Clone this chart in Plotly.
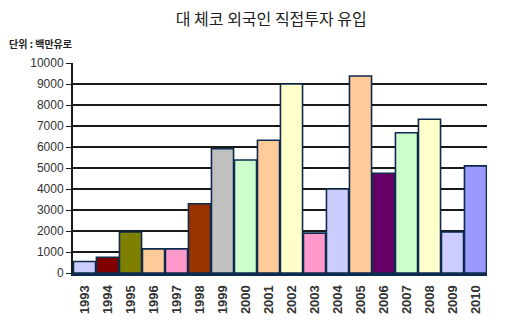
import plotly.graph_objects as go

years = [str(y) for y in range(1993, 2011)]
fdi_inflow = [550, 750, 1950, 1150, 1150, 3300, 5920, 5380, 6320, 9000,
              1900, 4000, 9380, 4750, 6680, 7320, 1950, 5100]
bar_colors = ["#ccccff", "#800000", "#808000", "#ffcc99", "#ff99cc", "#993300",
              "#c0c0c0", "#ccffcc", "#ffcc99", "#ffffcc", "#ff99cc", "#ccccff",
              "#ffcc99", "#660066", "#ccffcc", "#ffffcc", "#ccccff", "#9999ff"]
y_ticks = list(range(0, 10001, 1000))

fig = go.Figure(go.Bar(
    x=years, y=fdi_inflow,
    marker=dict(color=bar_colors, line=dict(color="#0d2b4e", width=1.6)),
))

fig.update_layout(
    width=510, height=323,
    margin=dict(l=73, r=23, t=63, b=50),
    paper_bgcolor="white", plot_bgcolor="white",
    bargap=0.04,
    showlegend=False,
    font=dict(family="Liberation Sans, Arial, sans-serif", color="#222"),
    title=dict(text="대 체코 외국인 직접투자 유입", xref="container", x=0.532,
               xanchor="center", yref="container", y=0.941, yanchor="middle",
               font=dict(family="Noto Sans CJK KR", size=16, color="#222")),
    annotations=[dict(text="<b>단위 : 백만유로</b>", xref="paper", yref="paper",
                      x=-0.159, y=1.095, xanchor="left", yanchor="middle",
                      showarrow=False,
                      font=dict(family="Noto Sans CJK KR", size=10, color="#222"))],
)

fig.update_yaxes(
    range=[0, 10000], tickvals=y_ticks, ticktext=[str(v) for v in y_ticks],
    showgrid=True, gridcolor="#1a1a1a", gridwidth=1.6,
    showline=True, linecolor="#1a1a1a", linewidth=2,
    ticks="outside", ticklen=5, tickcolor="#1a1a1a",
    tickfont=dict(size=12, color="#333"), zeroline=False, automargin=False,
)
fig.update_xaxes(
    tickangle=-90, showline=True, linecolor="#0d2b4e", linewidth=3,
    tickvals=years, ticktext=[f"<b>{y}</b>" for y in years],
    tickfont=dict(size=13, color="#333", family="Liberation Sans, Arial"),
    ticklabelstandoff=4, automargin=False,
)

fig.write_html("out.html")
